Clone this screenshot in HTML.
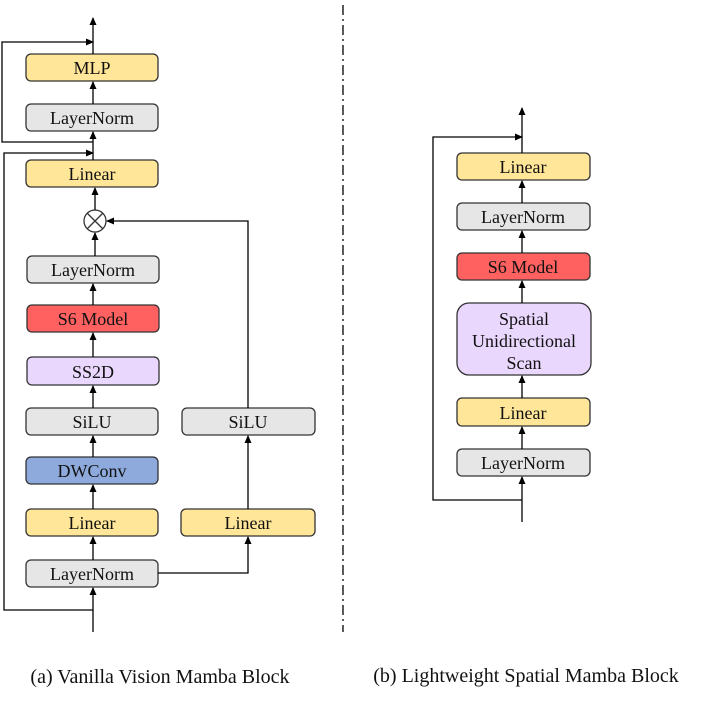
<!DOCTYPE html>
<html><head><style>body{margin:0;background:#fff}</style></head><body>
<svg width="706" height="701" xmlns="http://www.w3.org/2000/svg" font-family="Liberation Serif, serif">
<defs><marker id="a" markerWidth="8" markerHeight="8" refX="7" refY="4" orient="auto" markerUnits="userSpaceOnUse"><path d="M0,0.5 L8,4 L0,7.5 z" fill="#000"/></marker></defs>
<g stroke="#333" stroke-width="1.3">
<rect x="26" y="54" width="132" height="27" rx="5" fill="#ffe699"/>
<rect x="26" y="104" width="132" height="27" rx="5" fill="#e6e6e6"/>
<rect x="26" y="160" width="132" height="27" rx="5" fill="#ffe699"/>
<rect x="27" y="256" width="132" height="27" rx="5" fill="#e6e6e6"/>
<rect x="27" y="305" width="132" height="27" rx="5" fill="#ff6161"/>
<rect x="27" y="357" width="132" height="28" rx="5" fill="#ead7fd"/>
<rect x="26" y="408" width="132" height="27" rx="5" fill="#e6e6e6"/>
<rect x="182" y="408" width="133" height="27" rx="5" fill="#e6e6e6"/>
<rect x="26" y="457" width="132" height="27" rx="5" fill="#8eaadc"/>
<rect x="26" y="509" width="132" height="27" rx="5" fill="#ffe699"/>
<rect x="181" y="509" width="134" height="27" rx="5" fill="#ffe699"/>
<rect x="26" y="560" width="132" height="27" rx="5" fill="#e6e6e6"/>
<rect x="457" y="153" width="133" height="27" rx="5" fill="#ffe699"/>
<rect x="457" y="203" width="133" height="27" rx="5" fill="#e6e6e6"/>
<rect x="457" y="253" width="133" height="27" rx="5" fill="#ff6161"/>
<rect x="457" y="303" width="134" height="72" rx="12" fill="#ead7fd"/>
<rect x="457" y="398" width="133" height="28" rx="5" fill="#ffe699"/>
<rect x="457" y="449" width="133" height="27" rx="5" fill="#e6e6e6"/>
<circle cx="95" cy="221" r="11" fill="#fff"/>
<path d="M87,213 L103,229 M103,213 L87,229" fill="none"/>
</g>
<g stroke="#000" stroke-width="1.3" fill="none">
<path d="M93,632 V588" marker-end="url(#a)"/>
<path d="M93,560 V537" marker-end="url(#a)"/>
<path d="M93,509 V485" marker-end="url(#a)"/>
<path d="M93,457 V436" marker-end="url(#a)"/>
<path d="M93,408 V386" marker-end="url(#a)"/>
<path d="M93,357 V333" marker-end="url(#a)"/>
<path d="M93,305 V284" marker-end="url(#a)"/>
<path d="M95,256 V233" marker-end="url(#a)"/>
<path d="M95,210 V188" marker-end="url(#a)"/>
<path d="M93,160 V132" marker-end="url(#a)"/>
<path d="M93,104 V82" marker-end="url(#a)"/>
<path d="M93,54 V18" marker-end="url(#a)"/>
<path d="M93,610 H4 V153 H93" marker-end="url(#a)"/>
<path d="M93,142 H2 V42 H93" marker-end="url(#a)"/>
<path d="M158,573 H248 V537" marker-end="url(#a)"/>
<path d="M248,509 V436" marker-end="url(#a)"/>
<path d="M248,408 V221 H107" marker-end="url(#a)"/>
<path d="M522,522 V477" marker-end="url(#a)"/>
<path d="M522,449 V427" marker-end="url(#a)"/>
<path d="M522,398 V376" marker-end="url(#a)"/>
<path d="M522,303 V281" marker-end="url(#a)"/>
<path d="M522,253 V231" marker-end="url(#a)"/>
<path d="M522,203 V181" marker-end="url(#a)"/>
<path d="M522,153 V108" marker-end="url(#a)"/>
<path d="M522,500 H433 V137 H522" marker-end="url(#a)"/>
<path d="M343,5 V632" stroke-dasharray="10,4,2,4"/>
</g>
<g font-size="18" text-anchor="middle" fill="#111">
<text x="92" y="74">MLP</text>
<text x="92" y="124">LayerNorm</text>
<text x="92" y="180">Linear</text>
<text x="93" y="276">LayerNorm</text>
<text x="93" y="325">S6 Model</text>
<text x="93" y="378">SS2D</text>
<text x="92" y="428">SiLU</text>
<text x="248" y="428">SiLU</text>
<text x="92" y="477">DWConv</text>
<text x="92" y="529">Linear</text>
<text x="248" y="529">Linear</text>
<text x="92" y="580">LayerNorm</text>
<text x="523" y="173">Linear</text>
<text x="523" y="223">LayerNorm</text>
<text x="523" y="273">S6 Model</text>
<text x="524" y="325">Spatial</text>
<text x="524" y="347">Unidirectional</text>
<text x="524" y="369">Scan</text>
<text x="523" y="419">Linear</text>
<text x="523" y="469">LayerNorm</text>
</g>
<g font-size="20" text-anchor="middle" fill="#111">
<text x="160" y="683">(a) Vanilla Vision Mamba Block</text>
<text x="526" y="682">(b) Lightweight Spatial Mamba Block</text>
</g>
</svg>
</body></html>
